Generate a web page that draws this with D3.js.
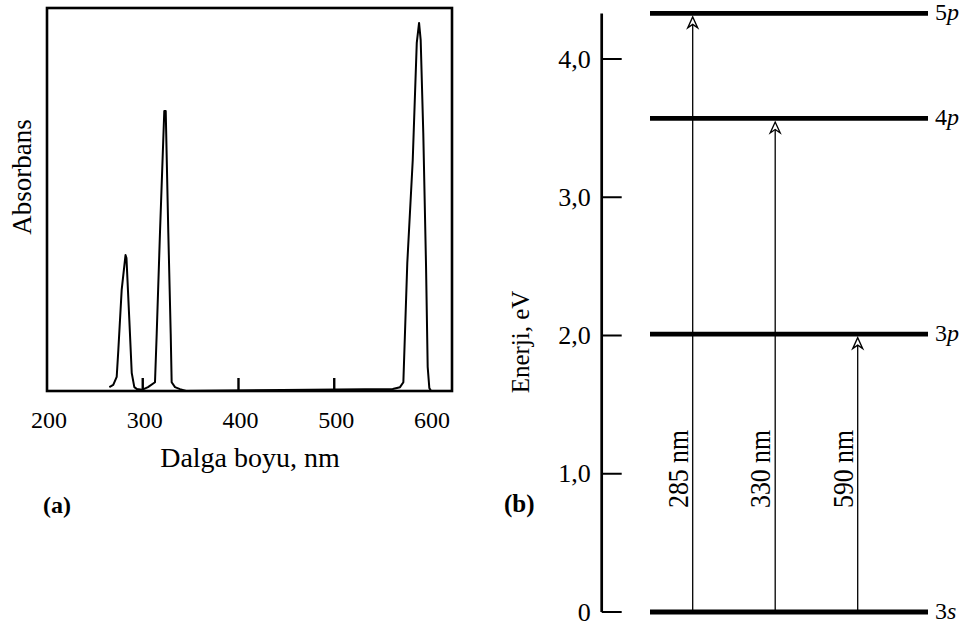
<!DOCTYPE html>
<html>
<head>
<meta charset="utf-8">
<script src="https://cdn.jsdelivr.net/npm/d3@7"></script>
<style>
    body { margin: 0; background: white; }
    svg { display: block; }
    text { font-family: "Liberation Serif", "Times New Roman", serif; fill: black; }
</style>
</head>
<body>
<svg id="chart" width="966" height="626"></svg>
<script>
// (a) absorption spectrum
const wavelengths = [265.1, 269.2, 272.8, 274.5, 278.0, 282.0, 283.0, 286.0, 288.5, 291.2, 294.0, 299.2,
    305.5, 312.8, 314.6, 318.0, 322.5, 324.0, 326.7, 329.2, 330.2, 333.7, 338.9, 345.2,
    561.1, 568.7, 572.2, 576.3, 582.0, 586.2, 588.6, 590.3, 593.0, 595.9, 597.6, 599.3, 601.1];
const absorbance = [0.010, 0.016, 0.037, 0.107, 0.264, 0.355, 0.347, 0.185, 0.047, 0.010, 0.005, 0.003,
    0.010, 0.023, 0.151, 0.413, 0.731, 0.731, 0.413, 0.151, 0.023, 0.010, 0.005, 0.000,
    0.005, 0.010, 0.023, 0.334, 0.603, 0.909, 0.961, 0.916, 0.674, 0.324, 0.063, 0.008, 0.000];
const wavelengthTicks = [200, 300, 400, 500, 600];
const innerTicks = [300, 400, 500];

// (b) energy levels
const levelNames = ["3s", "3p", "4p", "5p"];
const levelEnergies = [0, 2.01, 3.57, 4.33];
const energyTicks = [0, 1, 2, 3, 4];
const energyTickLabels = ["0", "1,0", "2,0", "3,0", "4,0"];
const transitions = ["285 nm", "330 nm", "590 nm"];
const transitionUpper = ["5p", "4p", "3p"];

const svg = d3.select("#chart");

function drawSpectrum(svg) {
    let x = d3.scaleLinear().domain([200, 623]).range([47, 452]);
    let y = d3.scaleLinear().domain([0, 1]).range([391, 8]);
    let g = svg.append('g').attr('id', 'spectrum-g');

    g.append('rect')
        .attr('x', x.range()[0])
        .attr('y', y.range()[1])
        .attr('width', x.range()[1] - x.range()[0])
        .attr('height', y.range()[0] - y.range()[1])
        .attr('fill', 'none')
        .attr('stroke', 'black')
        .attr('stroke-width', 2.6);

    g.selectAll('.inner-tick')
        .data(innerTicks)
        .join('line')
        .attr('class', 'inner-tick')
        .attr('x1', d => x(d))
        .attr('x2', d => x(d))
        .attr('y1', y(0))
        .attr('y2', y(0) - 13)
        .attr('stroke', 'black')
        .attr('stroke-width', 2.4);

    let points = wavelengths.map((w, i) => [w, absorbance[i]]);
    g.append('path')
        .datum(points)
        .attr('fill', 'none')
        .attr('stroke', 'black')
        .attr('stroke-width', 2)
        .attr('stroke-linejoin', 'round')
        .attr('d', d3.line().x(d => x(d[0])).y(d => y(d[1])));

    g.selectAll('.tick-label')
        .data(wavelengthTicks)
        .join('text')
        .attr('class', 'tick-label')
        .attr('x', d => x(d) + 2)
        .attr('y', 428)
        .attr('text-anchor', 'middle')
        .attr('font-size', 24)
        .text(d => d);

    g.append('text')
        .attr('x', 250)
        .attr('y', 467)
        .attr('text-anchor', 'middle')
        .attr('font-size', 28)
        .text('Dalga boyu, nm');

    g.append('text')
        .attr('transform', 'translate(31,177) rotate(-90)')
        .attr('text-anchor', 'middle')
        .attr('font-size', 27)
        .text('Absorbans');

    g.append('text')
        .attr('x', 43)
        .attr('y', 513)
        .attr('font-size', 24)
        .attr('font-weight', 'bold')
        .text('(a)');
}

function drawLevels(svg) {
    let y = d3.scaleLinear().domain([0, 4]).range([612, 59]);
    let arrowX = d3.scalePoint().domain(transitions).range([692.7, 857.7]);
    let axisX = 601.7;
    let levelLeft = 650, levelRight = 928;
    let g = svg.append('g').attr('id', 'levels-g');

    g.append('line')
        .attr('x1', axisX).attr('x2', axisX)
        .attr('y1', y(d3.max(levelEnergies)))
        .attr('y2', y(0))
        .attr('stroke', 'black')
        .attr('stroke-width', 2.7);

    g.selectAll('.tick')
        .data(energyTicks)
        .join('line')
        .attr('class', 'tick')
        .attr('x1', axisX)
        .attr('x2', axisX + 20)
        .attr('y1', d => y(d))
        .attr('y2', d => y(d))
        .attr('stroke', 'black')
        .attr('stroke-width', 2);

    g.selectAll('.tick-label')
        .data(energyTicks)
        .join('text')
        .attr('class', 'tick-label')
        .attr('x', axisX - 11)
        .attr('y', d => y(d) + 8.5)
        .attr('text-anchor', 'end')
        .attr('font-size', 26)
        .text((d, i) => energyTickLabels[i]);

    g.append('text')
        .attr('transform', 'translate(529,342) rotate(-90)')
        .attr('text-anchor', 'middle')
        .attr('font-size', 25)
        .text('Enerji, eV');

    g.append('text')
        .attr('x', 504)
        .attr('y', 512)
        .attr('font-size', 25)
        .attr('font-weight', 'bold')
        .text('(b)');

    g.selectAll('.level')
        .data(levelEnergies)
        .join('line')
        .attr('class', 'level')
        .attr('x1', levelLeft)
        .attr('x2', levelRight)
        .attr('y1', d => y(d))
        .attr('y2', d => y(d))
        .attr('stroke', 'black')
        .attr('stroke-width', 4.8);

    let names = g.selectAll('.level-name')
        .data(levelNames)
        .join('text')
        .attr('class', 'level-name')
        .attr('x', levelRight + 7)
        .attr('y', (d, i) => y(levelEnergies[i]) + 7)
        .attr('font-size', 24);
    names.append('tspan').text(d => d[0]);
    names.append('tspan').attr('font-style', 'italic').text(d => d.slice(1));

    transitions.forEach((t, i) => {
        let cx = arrowX(t);
        let top = y(levelEnergies[levelNames.indexOf(transitionUpper[i])]) + 3.5;
        let bottom = y(0) - 2;

        g.append('line')
            .attr('x1', cx).attr('x2', cx)
            .attr('y1', bottom).attr('y2', top + 6)
            .attr('stroke', 'black')
            .attr('stroke-width', 1.3);

        g.append('path')
            .attr('d', `M${cx},${top} L${cx - 5},${top + 11} L${cx},${top + 7.5} L${cx + 5},${top + 11} Z`)
            .attr('fill', 'white')
            .attr('stroke', 'black')
            .attr('stroke-width', 1.3)
            .attr('stroke-linejoin', 'miter');

        g.append('text')
            .attr('transform', `translate(${cx - 5},${469}) rotate(-90)`)
            .attr('text-anchor', 'middle')
            .attr('font-size', 29)
            .attr('textLength', 78)
            .attr('lengthAdjust', 'spacingAndGlyphs')
            .text(t);
    });
}

drawSpectrum(svg);
drawLevels(svg);
</script>
</body>
</html>
